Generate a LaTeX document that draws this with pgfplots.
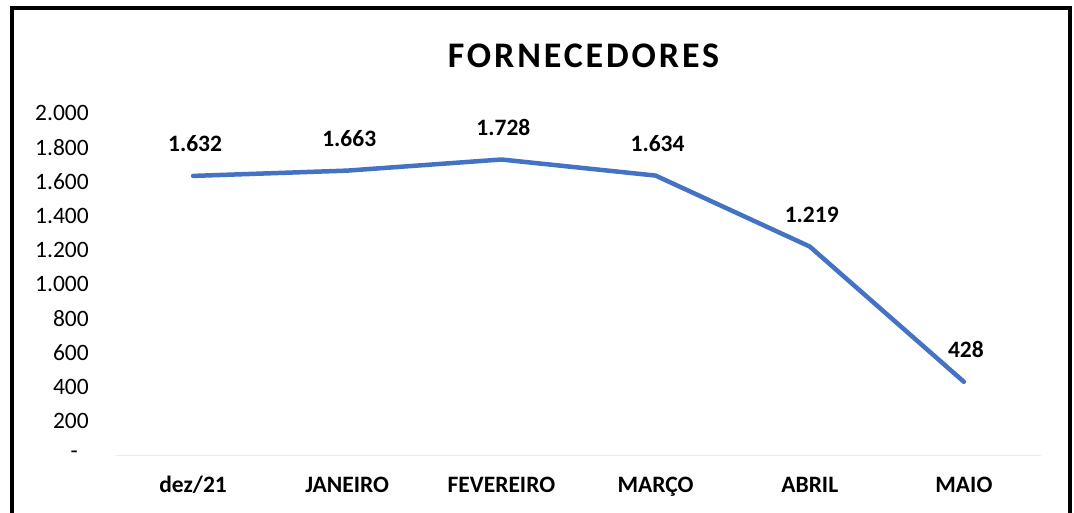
\documentclass[border=0pt]{standalone}
\usepackage{fontspec}
\setmainfont{Carlito}
\usepackage{pgfplots}
\pgfplotsset{compat=1.18}
\definecolor{lineblue}{HTML}{4472C4}
\begin{document}
\begin{tikzpicture}[x=1pt,y=1pt]
\useasboundingbox (0,0) rectangle (1074,513);
% frame
\draw[line width=4pt, line join=miter] (12,-10) -- (12,505) -- (1069.5,505) -- (1069.5,-10);
% title
\node[anchor=base, inner sep=0] at (583.5,445.5)
  {\fontsize{36}{40}\selectfont\bfseries\addfontfeatures{LetterSpace=8}FORNECEDORES};
\begin{axis}[
  at={(116pt,58pt)}, anchor=south west,
  width=925pt, height=342pt, scale only axis,
  xmin=-0.5, xmax=5.5, ymin=0, ymax=2000,
  axis line style={draw=none},
  axis x line*=bottom, axis y line*=left,
  x axis line style={draw=black!8, line width=0.8pt},
  major tick length=0pt,
  xtick={0,1,2,3,4,5},
  xticklabels={dez/21, JANEIRO, FEVEREIRO, MARÇO, ABRIL, MAIO},
  xticklabel style={anchor=base, inner sep=0pt, yshift=-38pt, font=\fontsize{23.5}{28}\selectfont\bfseries},
  ytick={200,400,600,800,1000,1200,1400,1600,1800,2000},
  yticklabels={200, 400, 600, 800, 1.000, 1.200, 1.400, 1.600, 1.800, 2.000},
  yticklabel style={anchor=east, inner sep=0pt, xshift=-27pt, font=\fontsize{23.5}{28}\selectfont},
  extra y ticks={0},
  extra y tick labels={-},
  extra y tick style={yticklabel style={xshift=-11pt}, major tick length=0pt},
  ymajorgrids=false, xmajorgrids=false,
  clip=false,
  nodes near coords={\pgfmathprintnumber[fixed, precision=0, 1000 sep={.}, assume math mode=true]{\pgfplotspointmeta}},
  nodes near coords style={anchor=base, inner sep=0pt, yshift=24pt, xshift=2pt, text=black, font=\fontsize{23.5}{28}\selectfont\bfseries},
  point meta=explicit,
]
\addplot[lineblue, line width=4.5pt, line join=round, line cap=round, mark=none]
  table[meta=y] {
  x y
  0 1632
  1 1663
  2 1728
  3 1634
  4 1219
  5 428
  };
\end{axis}
\end{tikzpicture}
\end{document}
